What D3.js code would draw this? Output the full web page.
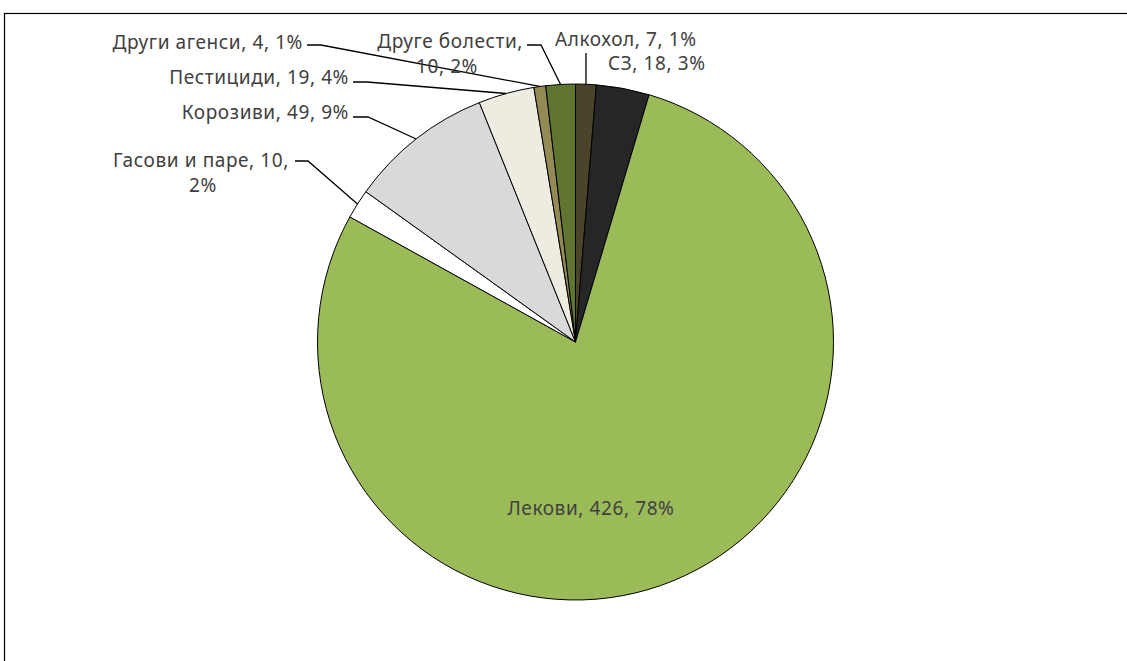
<!DOCTYPE html>
<html>
<head>
    <meta charset="utf-8">
    <title></title>
    <style>
        body { margin: 0; background: #fff; }
        text { font-family: "Noto Sans", "Open Sans", sans-serif; fill: #404040; }
    </style>
</head>
<body>

<script src="https://d3js.org/d3.v7.min.js"></script>
<script type="text/javascript">

    // data, clockwise from 12 o'clock
    var categories = ["Алкохол", "СЗ", "Лекови", "Гасови и паре", "Корозиви", "Пестициди", "Други агенси", "Друге болести"];
    var values     = [7, 18, 426, 10, 49, 19, 4, 10];
    var percents   = ["1%", "3%", "78%", "2%", "9%", "4%", "1%", "2%"];
    var colors     = ["#4a452a", "#262626", "#9bbb59", "#ffffff", "#d9d9d9", "#eeece1", "#948a54", "#5f7530"];

    var width = 1127, height = 661;
    var cx = 575.5, cy = 342, radius = 258;

    // label layout (text lines, anchor, position, leader elbow)
    var labelLayout = [
        {lines: ["Алкохол, 7, 1%"], anchor: "start", x: 555, y: 46, leader: [[586, 53], [586, 53]]},
        {lines: ["СЗ, 18, 3%"], anchor: "start", x: 608, y: 70, leader: null},
        {lines: ["Лекови, 426, 78%"], anchor: "middle", x: 591, y: 515, leader: null},
        {lines: ["Гасови и паре, 10,", "2%"], anchor: "end", x: 289, y: 167, lineX: [289, 203], leader: [[295, 161], [308, 161]]},
        {lines: ["Корозиви, 49, 9%"], anchor: "end", x: 349, y: 119, leader: [[353, 117], [368, 117]]},
        {lines: ["Пестициди, 19, 4%"], anchor: "end", x: 349, y: 84, leader: [[353, 82], [367, 82]]},
        {lines: ["Други агенси, 4, 1%"], anchor: "end", x: 303, y: 49, leader: [[307, 45], [321, 45]]},
        {lines: ["Друге болести,", "10, 2%"], anchor: "end", x: 523, y: 48, lineX: [523, 447], leader: [[527, 45], [541, 45]]}
    ];

    var svg = d3.select("body")
        .append("svg")
        .attr("width", width)
        .attr("height", height);

    // chart frame
    svg.append("rect")
        .attr("x", 4.5)
        .attr("y", 13.5)
        .attr("width", width + 10)
        .attr("height", height + 10)
        .style("fill", "none")
        .style("stroke", "#000")
        .style("stroke-width", "1.2px");

    var data = categories.map(function(c, i) {
        return {name: c, value: values[i], pct: percents[i], color: colors[i], layout: labelLayout[i]};
    });

    var pie = d3.pie()
        .sort(null)
        .value(function(d) { return d.value; });

    var arc = d3.arc().innerRadius(0).outerRadius(radius);
    var outerArc = d3.arc().innerRadius(radius).outerRadius(radius);

    var arcs = pie(data);

    var chart = svg.append("g")
        .attr("transform", "translate(" + cx + "," + cy + ")");

    chart.selectAll("path.slice")
        .data(arcs)
        .enter().append("path")
        .attr("class", "slice")
        .attr("d", arc)
        .style("fill", function(d) { return d.data.color; })
        .style("stroke", "#000")
        .style("stroke-width", "1px");

    // leader lines
    arcs.forEach(function(d) {
        var l = d.data.layout;
        if (!l.leader) return;
        var end = outerArc.centroid(d);
        var pts = l.leader.map(function(p) { return [p[0] - cx, p[1] - cy]; });
        pts.push(end);
        chart.append("path")
            .attr("d", d3.line()(pts))
            .style("fill", "none")
            .style("stroke", "#000")
            .style("stroke-width", "1.3px");
    });

    // labels
    arcs.forEach(function(d) {
        var l = d.data.layout;
        var t = svg.append("text")
            .attr("text-anchor", l.anchor)
            .style("font-size", "19px")
            .style("letter-spacing", "0.6px");
        l.lines.forEach(function(line, j) {
            var tx = l.lineX ? l.lineX[j] : l.x;
            t.append("tspan")
                .attr("x", tx)
                .attr("y", l.y + j * 25)
                .attr("text-anchor", j > 0 ? "middle" : l.anchor)
                .text(line);
        });
    });

</script>
</body>
</html>
